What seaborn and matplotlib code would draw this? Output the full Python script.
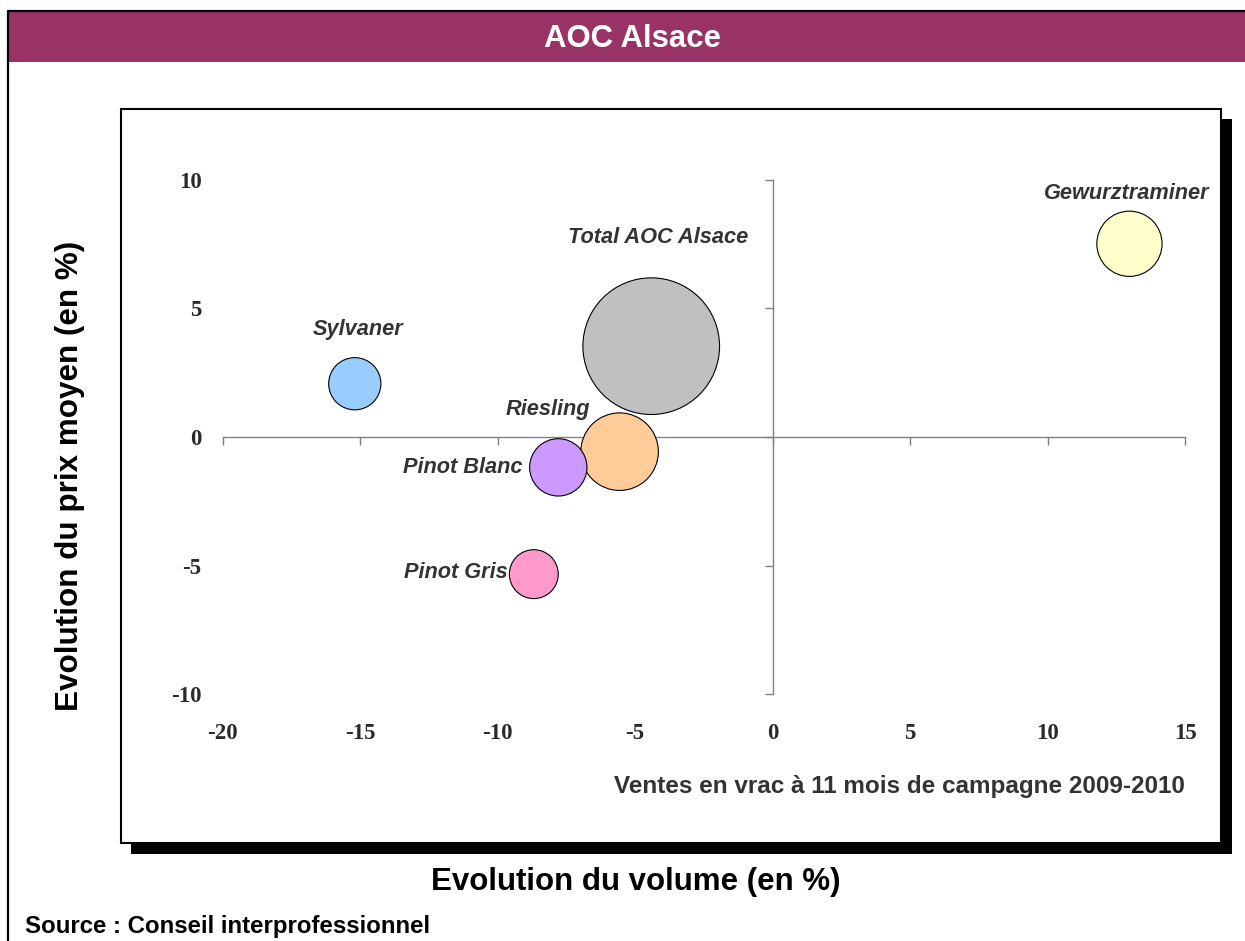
import matplotlib
matplotlib.use("Agg")
import matplotlib.pyplot as plt
import seaborn as sns
import pandas as pd
from matplotlib.patches import Rectangle
from matplotlib.lines import Line2D

# ---------------- data ----------------
cepages = ["Total AOC Alsace", "Sylvaner", "Riesling", "Pinot Blanc", "Pinot Gris", "Gewurztraminer"]
evol_volume = [-4.41, -15.19, -5.56, -7.79, -8.68, 12.98]   # x, %
evol_prix = [3.53, 2.07, -0.57, -1.18, -5.33, 7.51]          # y, %
volume_share = [100, 14.6, 32.2, 17.6, 12.8, 22.8]           # bubble area (relative volume)
x_ticks = [-20, -15, -10, -5, 0, 5, 10, 15]
y_ticks = [-10, -5, 0, 5, 10]

title = "AOC Alsace"
y_title = "Evolution du prix moyen (en %)"
x_title = "Evolution du volume (en %)"
note = "Ventes en vrac à 11 mois de campagne 2009-2010"
source = "Source : Conseil interprofessionnel"

# ---------------- styles ----------------
colors = {
    "Total AOC Alsace": "#C0C0C0",
    "Sylvaner": "#99CCFF",
    "Riesling": "#FFCC99",
    "Pinot Blanc": "#CC99FF",
    "Pinot Gris": "#FF99CC",
    "Gewurztraminer": "#FFFFCC",
}
# label offsets in points relative to bubble centre: (dx, dy, ha)
label_offsets = {
    "Total AOC Alsace": (4.9, 78.6, "center"),
    "Sylvaner": (2.4, 38.7, "center"),
    "Riesling": (-51.6, 30.7, "center"),
    "Pinot Blanc": (-26.1, 0.0, "right"),
    "Pinot Gris": (-18.6, 0.9, "right"),
    "Gewurztraminer": (-1.8, 36.5, "center"),
}

sns.set_style("white")
plt.rcParams["font.family"] = ["Liberation Sans", "DejaVu Sans"]

W, H = 1245, 941


def fx(x):
    return x / W


def fy(y):
    return 1 - y / H


fig = plt.figure(figsize=(W / 100, H / 100), dpi=100)
fig.patch.set_facecolor("white")

# title band and outer border
fig.add_artist(Rectangle((fx(8), fy(62)), fx(1245) - fx(8), fy(11) - fy(62),
                         transform=fig.transFigure, facecolor="#993366",
                         edgecolor="none", zorder=-10))
fig.add_artist(Line2D([fx(8), fx(8), fx(1245)], [fy(941), fy(11), fy(11)],
                      transform=fig.transFigure, color="black", lw=1.6, zorder=-9))
fig.text(fx(633), fy(39), title, ha="center", va="center", color="white",
         fontsize=22.4, fontweight="bold")

# plot frame with shadow
fig.add_artist(Rectangle((fx(131), fy(854)), fx(1232) - fx(131), fy(119) - fy(854),
                         transform=fig.transFigure, facecolor="black",
                         edgecolor="none", zorder=-8))
fig.add_artist(Rectangle((fx(121), fy(843)), fx(1221) - fx(121), fy(109) - fy(843),
                         transform=fig.transFigure, facecolor="white",
                         edgecolor="black", lw=1.5, zorder=-7))

# axes: x -20..15, y -10..10
ax = fig.add_axes([fx(222.5), fy(694.3), fx(1185) - fx(222.5), fy(179.7) - fy(694.3)])
ax.set_facecolor("none")

df = pd.DataFrame({"cepage": cepages, "volume": evol_volume,
                   "prix": evol_prix, "part": volume_share})

sns.scatterplot(data=df, x="volume", y="prix", hue="cepage", palette=colors,
                size="part", sizes=(0, 9680), size_norm=(0, 100),
                edgecolor="black", linewidth=0.8, legend=False, ax=ax, zorder=3,
                clip_on=False)

ax.set_xlim(x_ticks[0], x_ticks[-1])
ax.set_ylim(y_ticks[0], y_ticks[-1])
ax.set_xlabel("")
ax.set_ylabel("")

for s in ["top", "right"]:
    ax.spines[s].set_visible(False)
ax.spines["left"].set_position(("data", 0))
ax.spines["bottom"].set_position(("data", 0))
for s in ["left", "bottom"]:
    ax.spines[s].set_color("#808080")
    ax.spines[s].set_linewidth(1.0)
    ax.spines[s].set_zorder(1)
ax.set_xticks(x_ticks)
ax.set_yticks(y_ticks)
ax.tick_params(axis="both", which="major", direction="out", length=5.5, width=1.0,
               color="#808080", bottom=True, left=True, top=False, right=False,
               labelbottom=False, labelleft=False)

# tick labels at the low side
tick_font = dict(family=["Liberation Serif", "DejaVu Serif"], weight="bold", size=16.5)
secx = ax.secondary_xaxis("bottom")
secx.set_xticks(x_ticks)
secx.set_xticklabels([str(t) for t in x_ticks], fontdict=tick_font, color="#2a2a2a")
secx.tick_params(length=0, pad=21)
secx.spines["bottom"].set_visible(False)
secy = ax.secondary_yaxis("left")
secy.set_yticks(y_ticks)
secy.set_yticklabels([str(t) for t in y_ticks], fontdict=tick_font, color="#2a2a2a")
secy.tick_params(length=0, pad=15)
secy.spines["left"].set_visible(False)

# bubble labels
for name, xv, yv in zip(cepages, evol_volume, evol_prix):
    dx, dy, ha = label_offsets[name]
    ax.annotate(name, xy=(xv, yv), xytext=(dx, dy), textcoords="offset points",
                ha=ha, va="center", fontsize=15.7, fontweight="bold",
                fontstyle="italic", color="#333333", zorder=5)

# titles and notes
fig.text(fx(70), fy(476), y_title, rotation=90, ha="center", va="center",
         fontsize=22.6, fontweight="bold", color="black")
fig.text(fx(636), fy(882), x_title, ha="center", va="center",
         fontsize=22.5, fontweight="bold", color="black")
fig.text(fx(1185), fy(787), note, ha="right", va="center",
         fontsize=17.5, fontweight="bold", color="#333333")
fig.text(fx(25), fy(926), source, ha="left", va="center",
         fontsize=17.3, fontweight="bold", color="black")

fig.savefig("out.png", dpi=100)
